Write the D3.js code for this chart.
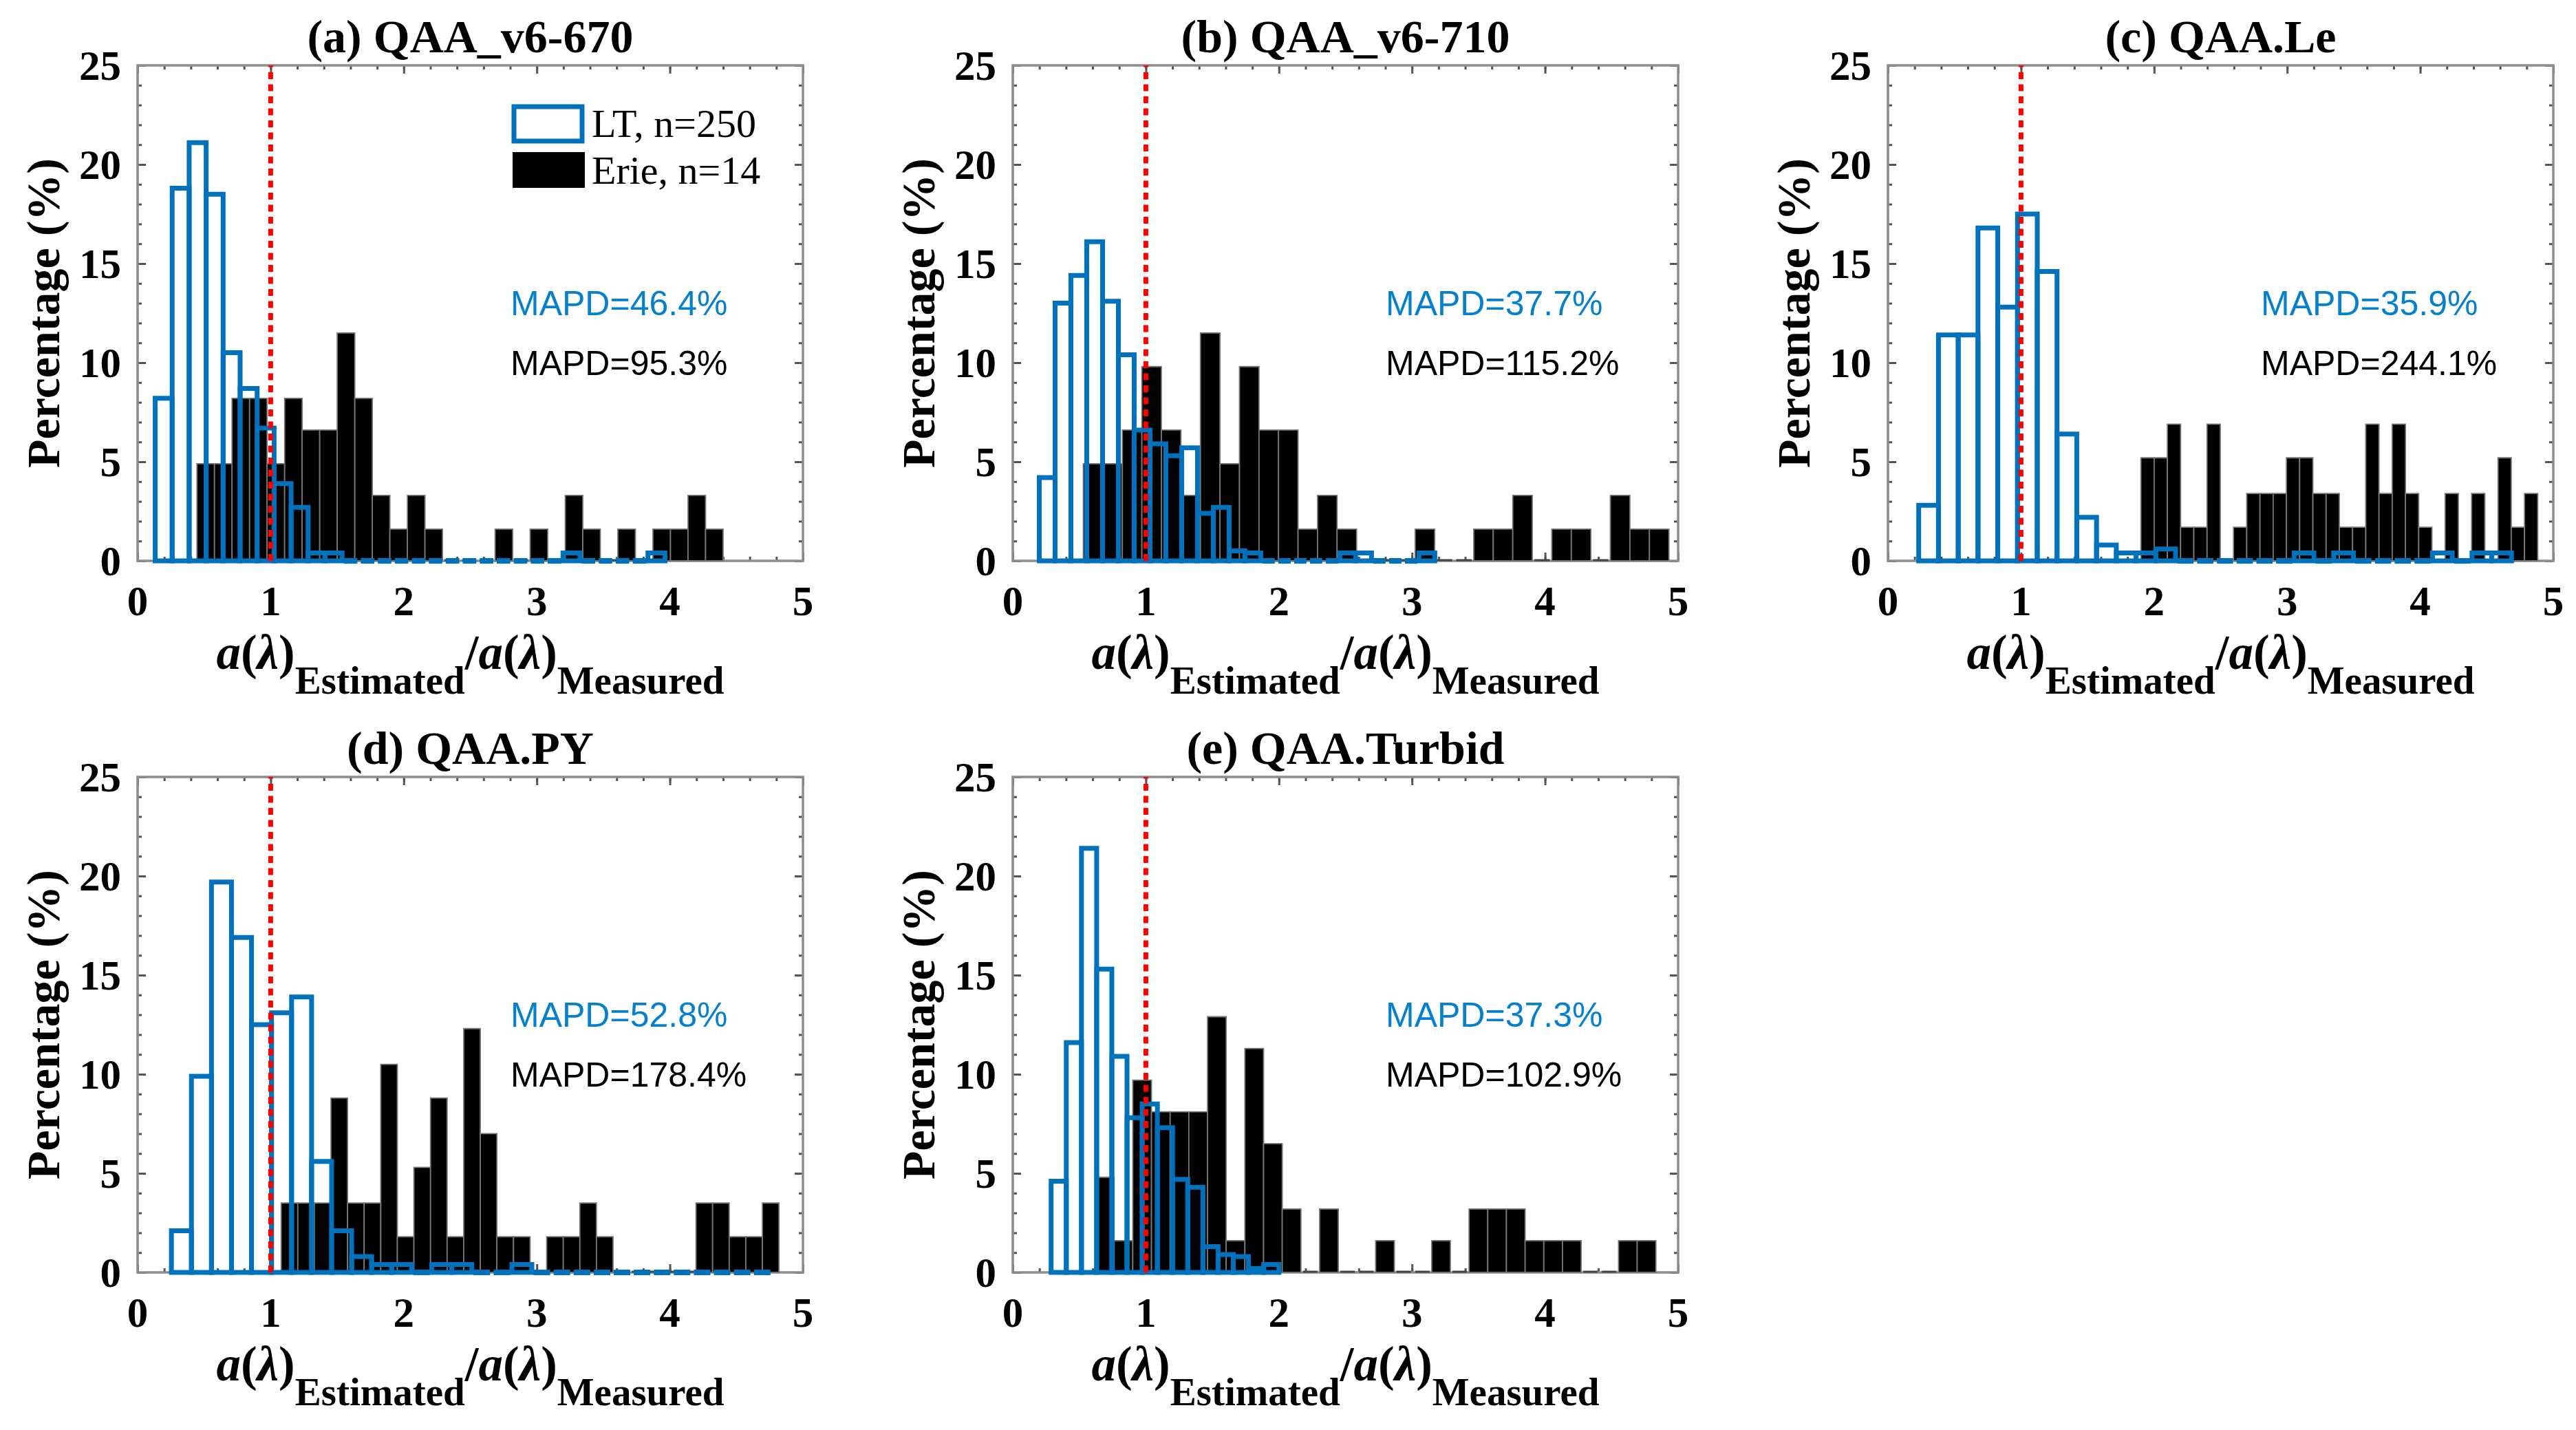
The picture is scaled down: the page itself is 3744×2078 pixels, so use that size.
<!DOCTYPE html>
<html><head><meta charset="utf-8">
<script src="https://cdn.jsdelivr.net/npm/d3@7"></script>
<style>body{margin:0;background:#fff}svg{display:block}</style>
</head><body>
<svg id="c" width="3744" height="2078"></svg>
<script>
// ---------------- data ----------------
const panelTitles = ["(a) QAA_v6-670", "(b) QAA_v6-710", "(c) QAA.Le", "(d) QAA.PY", "(e) QAA.Turbid"];
const mapdLT   = ["MAPD=46.4%", "MAPD=37.7%", "MAPD=35.9%", "MAPD=52.8%", "MAPD=37.3%"];
const mapdErie = ["MAPD=95.3%", "MAPD=115.2%", "MAPD=244.1%", "MAPD=178.4%", "MAPD=102.9%"];
const legendLabels = ["LT, n=250", "Erie, n=14"];
const xTicks = [0, 1, 2, 3, 4, 5];
const yTicks = [0, 5, 10, 15, 20, 25];
const refLine = 1;

// LT histograms (% per bin): first bin edge and bin width per panel
const ltStart = [0.132, 0.199, 0.231, 0.254, 0.288];
const ltWidth = [0.1277, 0.1189, 0.1485, 0.1505, 0.1141];
const ltA = [8.2,18.8,21.1,18.5,10.5,8.7,6.7,3.9,2.7,0.4,0.4,0,0,0,0,0,0,0,0,0,0,0,0,0,0.4,0,0,0,0,0.4];
const ltB = [4.2,13.0,14.4,16.1,13.1,10.4,6.6,5.9,5.3,5.7,2.4,2.7,0.5,0.4,0,0,0,0,0,0.4,0.4,0,0,0,0.4];
const ltC = [2.8,11.4,11.4,16.8,12.8,17.5,14.6,6.4,2.2,0.8,0.4,0.4,0.6,0,0,0,0,0,0,0.4,0,0.4,0,0,0,0,0.4,0,0.4,0.4];
const ltD = [2.1,9.9,19.7,16.9,12.5,13.1,13.9,5.6,2.1,0.8,0.4,0.4,0,0.4,0.4,0,0,0.4,0,0,0,0,0,0,0,0,0,0,0,0];
const ltE = [4.6,11.6,21.4,15.3,10.9,7.8,8.5,7.3,4.7,4.3,1.3,0.9,0.8,0.2,0.4];

// Erie histograms (% per bin)
const erieStart = [0.446, 0.530, 1.901, 1.079, 0.621];
const erieWidth = [0.1318, 0.1467, 0.0994, 0.1247, 0.1404];
const erieA = [4.9,4.9,8.2,8.2,4.9,8.2,6.6,6.6,11.5,8.2,3.3,1.6,3.3,1.6,0,0,0,1.6,0,1.6,0,3.3,1.6,0,1.6,0,1.6,1.6,3.3,1.6];
const erieB = [4.9,4.9,6.6,9.8,6.6,3.3,11.5,4.9,9.8,6.6,6.6,1.6,3.3,1.6,0,0,0,1.6,0,0,1.6,1.6,3.3,0,1.6,1.6,0,3.3,1.6,1.6];
const erieC = [5.2,5.2,6.9,1.7,1.7,6.9,0,1.7,3.4,3.4,3.4,5.2,5.2,3.4,3.4,1.7,1.7,6.9,3.4,6.9,3.4,1.7,0,3.4,0,3.4,0,5.2,1.7,3.4];
const erieD = [3.5,3.5,3.5,8.8,3.5,3.5,10.5,1.8,5.3,8.8,1.8,12.3,7.0,1.8,1.8,0,1.8,1.8,3.5,1.8,0,0,0,0,0,3.5,3.5,1.8,1.8,3.5];
const erieE = [4.8,1.6,9.7,8.1,8.1,8.1,12.9,1.6,11.3,6.5,3.2,0,3.2,0,0,1.6,0,0,1.6,0,3.2,3.2,3.2,1.6,1.6,1.6,0,0,1.6,1.6];

const ltVals = [ltA, ltB, ltC, ltD, ltE];
const erieVals = [erieA, erieB, erieC, erieD, erieE];

// ---------------- layout / style ----------------
const SERIF = "'Liberation Serif','Times New Roman',serif";
const SANS = "'Liberation Sans',Arial,sans-serif";
const BLUE = "#0072BD", BLUE_TXT = "#0580CC";
const PW = 967, PH = 720;
const layout = [[200, 95], [1472, 95], [2744, 95], [200, 1129], [1472, 1129]];
const svg = d3.select("#c");

function binsOf(vals, start, width) {
  return vals.map((v, k) => ({ x0: start + k * width, x1: start + (k + 1) * width, v }));
}

panelTitles.forEach((title, i) => {
  const [L, T] = layout[i];
  const g = svg.append("g").attr("transform", `translate(${L},${T})`);
  const x = d3.scaleLinear().domain([0, 5]).range([0, PW]);
  const y = d3.scaleLinear().domain([0, 25]).range([PH, 0]);

  // axes ticks (inward, mirrored)
  const xMinor = d3.range(0, 5.0001, 0.2);
  const yMinor = d3.range(0, 25.0001, 1);
  const tick = (gen, tx) => g.append("g").attr("transform", tx).call(gen)
    .call(s => { s.select(".domain").remove(); s.selectAll("text").remove();
      s.selectAll("line").attr("stroke", "#555").attr("stroke-width", 3); });
  tick(d3.axisBottom(x).tickValues(xTicks).tickSize(-12).tickFormat(""), `translate(0,${PH})`);
  tick(d3.axisBottom(x).tickValues(xMinor).tickSize(-6).tickFormat(""), `translate(0,${PH})`);
  tick(d3.axisTop(x).tickValues(xTicks).tickSize(-12).tickFormat(""), `translate(0,0)`);
  tick(d3.axisTop(x).tickValues(xMinor).tickSize(-6).tickFormat(""), `translate(0,0)`);
  tick(d3.axisLeft(y).tickValues(yTicks).tickSize(-12).tickFormat(""), `translate(0,0)`);
  tick(d3.axisLeft(y).tickValues(yMinor).tickSize(-6).tickFormat(""), `translate(0,0)`);
  tick(d3.axisRight(y).tickValues(yTicks).tickSize(-12).tickFormat(""), `translate(${PW},0)`);
  tick(d3.axisRight(y).tickValues(yMinor).tickSize(-6).tickFormat(""), `translate(${PW},0)`);
  g.append("rect").attr("width", PW).attr("height", PH)
    .attr("fill", "none").attr("stroke", "#8c8c8c").attr("stroke-width", 3.5);

  // Erie bars (filled black)
  const eb = binsOf(erieVals[i], erieStart[i], erieWidth[i]);
  g.selectAll("path.erie").data(eb.filter(d => d.v > 0)).join("path").attr("class", "erie")
    .attr("d", d => `M${x(d.x0)},${y(0)}V${y(d.v)}H${x(d.x1)}V${y(0)}Z`)
    .attr("fill", "#000").attr("stroke", "#777").attr("stroke-width", 1.8);
  g.selectAll("line.erie0").data(eb.filter(d => d.v === 0)).join("line").attr("class", "erie0")
    .attr("x1", d => x(d.x0) + 3).attr("x2", d => x(d.x1) - 3)
    .attr("y1", y(0) - 1).attr("y2", y(0) - 1)
    .attr("stroke", "#444").attr("stroke-width", 3);

  // LT bars (blue outlines)
  const lb = binsOf(ltVals[i], ltStart[i], ltWidth[i]);
  g.selectAll("path.lt").data(lb.filter(d => d.v > 0)).join("path").attr("class", "lt")
    .attr("d", d => `M${x(d.x0)},${y(0)}V${y(d.v)}H${x(d.x1)}V${y(0)}Z`)
    .attr("fill", "none").attr("stroke", BLUE).attr("stroke-width", 7)
    .attr("stroke-linejoin", "miter");
  g.selectAll("line.lt0").data(lb.filter(d => d.v === 0)).join("line").attr("class", "lt0")
    .attr("x1", d => x(d.x0) + 2.5).attr("x2", d => x(d.x1) - 2.5)
    .attr("y1", y(0)).attr("y2", y(0))
    .attr("stroke", BLUE).attr("stroke-width", 8);

  // reference line at ratio = 1
  g.append("line").attr("x1", x(refLine)).attr("x2", x(refLine))
    .attr("y1", y(0)).attr("y2", y(25))
    .attr("stroke", "#ff0000").attr("stroke-width", 7).attr("stroke-dasharray", "10,7.5");

  // tick labels
  g.selectAll("text.xt").data(xTicks).join("text").attr("class", "xt")
    .attr("x", d => x(d)).attr("y", PH + 79).attr("text-anchor", "middle")
    .attr("font-family", SERIF).attr("font-weight", "bold").attr("font-size", 61).text(d => d);
  g.selectAll("text.yt").data(yTicks).join("text").attr("class", "yt")
    .attr("x", -24).attr("y", d => y(d) + 21).attr("text-anchor", "end")
    .attr("font-family", SERIF).attr("font-weight", "bold").attr("font-size", 61).text(d => d);

  // title
  g.append("text").attr("x", PW / 2).attr("y", -19).attr("text-anchor", "middle")
    .attr("font-family", SERIF).attr("font-weight", "bold").attr("font-size", 68).text(title);

  // y label
  g.append("text").attr("transform", `translate(-114,${PH / 2}) rotate(-90)`)
    .attr("text-anchor", "middle").attr("font-family", SERIF).attr("font-weight", "bold")
    .attr("font-size", 68).text("Percentage (%)");

  // x label
  const xl = g.append("text").attr("x", PW / 2).attr("y", PH + 157).attr("text-anchor", "middle")
    .attr("font-family", SERIF).attr("font-weight", "bold").attr("font-size", 71);
  xl.append("tspan").attr("font-style", "italic").text("a");
  xl.append("tspan").text("(");
  xl.append("tspan").attr("font-style", "italic").text("λ");
  xl.append("tspan").text(")");
  xl.append("tspan").attr("dy", 36).attr("font-size", 57).text("Estimated");
  xl.append("tspan").attr("dy", -36).text("/");
  xl.append("tspan").attr("font-style", "italic").text("a");
  xl.append("tspan").text("(");
  xl.append("tspan").attr("font-style", "italic").text("λ");
  xl.append("tspan").text(")");
  xl.append("tspan").attr("dy", 36).attr("font-size", 57).text("Measured");

  // MAPD annotations
  g.append("text").attr("x", 542).attr("y", 363).attr("font-family", SANS)
    .attr("font-size", 50).attr("fill", BLUE_TXT).text(mapdLT[i]);
  g.append("text").attr("x", 542).attr("y", 450).attr("font-family", SANS)
    .attr("font-size", 50).attr("fill", "#000").text(mapdErie[i]);

  // legend (first panel only)
  if (i === 0) {
    g.append("rect").attr("x", 547).attr("y", 60).attr("width", 99).attr("height", 50)
      .attr("fill", "#fff").attr("stroke", BLUE).attr("stroke-width", 7);
    g.append("rect").attr("x", 545).attr("y", 126).attr("width", 105).attr("height", 52)
      .attr("fill", "#000");
    g.selectAll("text.lg").data(legendLabels).join("text").attr("class", "lg")
      .attr("x", 660).attr("y", (d, k) => 104 + k * 68)
      .attr("font-family", SERIF).attr("font-size", 58).text(d => d);
  }
});
</script>
</body></html>
